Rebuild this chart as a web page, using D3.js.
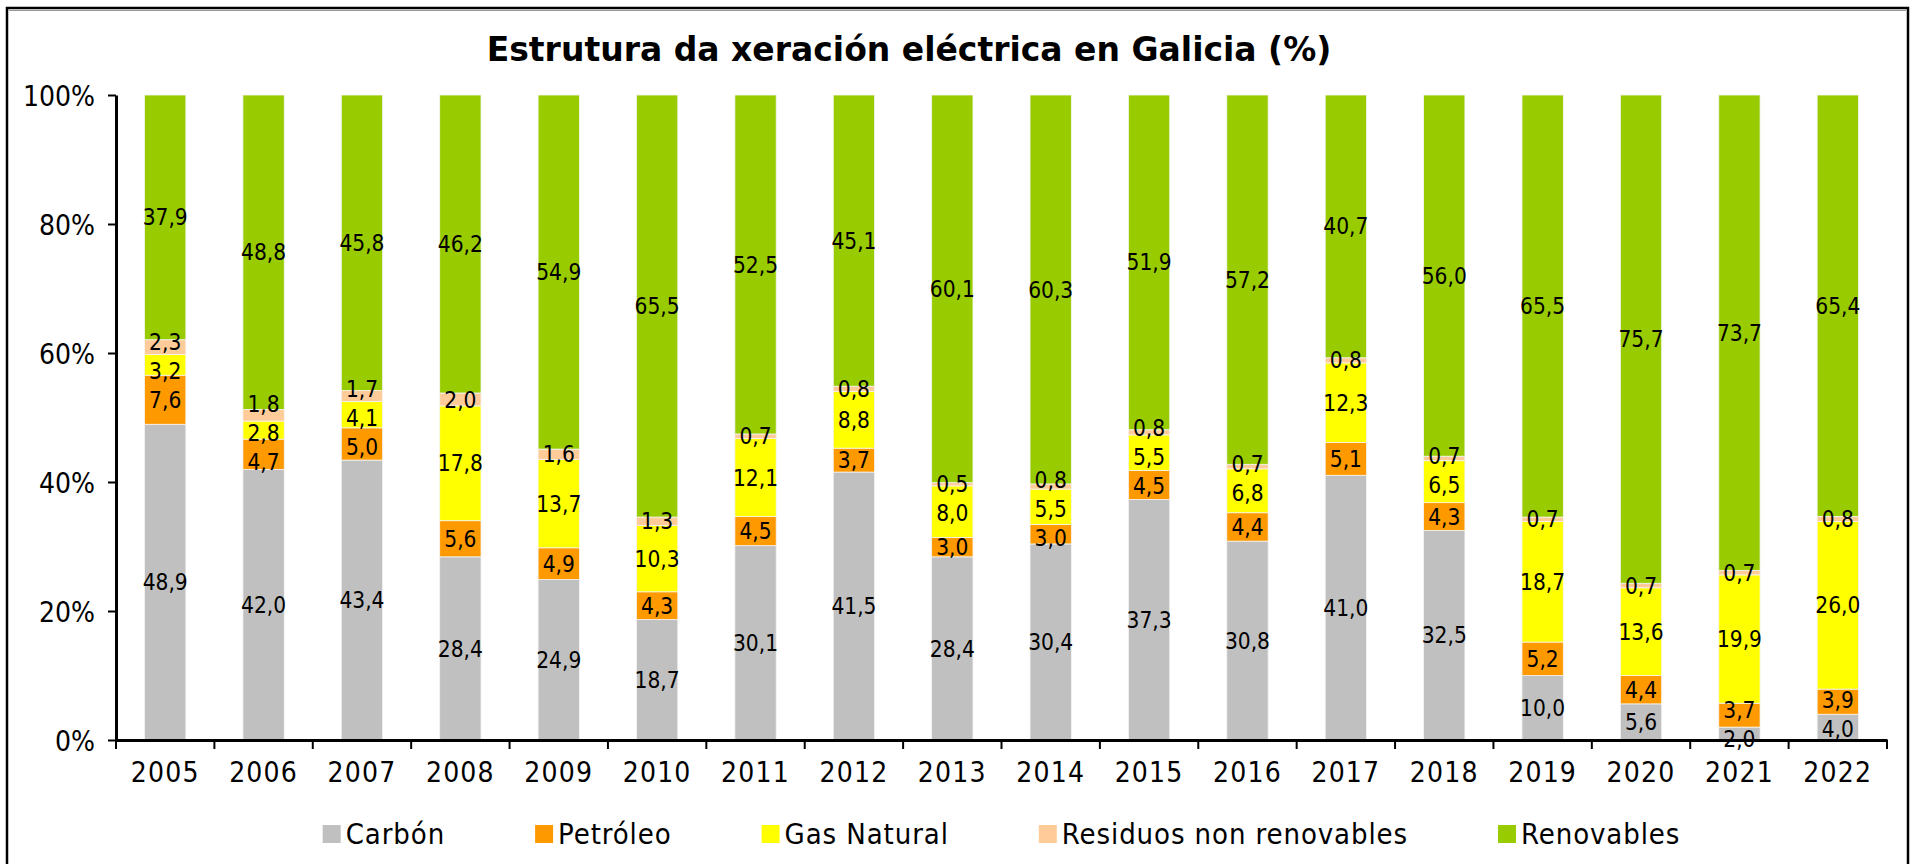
<!DOCTYPE html>
<html>
<head>
<meta charset="utf-8">
<script src="https://cdn.jsdelivr.net/npm/d3@7"></script>
<style>
  body { margin: 0; background: #fff; }
  text { font-family: "DejaVu Sans Condensed", "DejaVu Sans", sans-serif; font-stretch: condensed; }
</style>
</head>
<body>
<script>
const svgWidth = 1910
const svgHeight = 864

const margin = { top: 95, right: 23, bottom: 124, left: 116 }
const chartWidth = svgWidth - margin.left - margin.right
const chartHeight = svgHeight - margin.top - margin.bottom

// data (% of generation)
const years = ["2005","2006","2007","2008","2009","2010","2011","2012","2013","2014","2015","2016","2017","2018","2019","2020","2021","2022"]
const carbon = [48.9, 42.0, 43.4, 28.4, 24.9, 18.7, 30.1, 41.5, 28.4, 30.4, 37.3, 30.8, 41.0, 32.5, 10.0, 5.6, 2.0, 4.0]
const petroleo = [7.6, 4.7, 5.0, 5.6, 4.9, 4.3, 4.5, 3.7, 3.0, 3.0, 4.5, 4.4, 5.1, 4.3, 5.2, 4.4, 3.7, 3.9]
const gasNatural = [3.2, 2.8, 4.1, 17.8, 13.7, 10.3, 12.1, 8.8, 8.0, 5.5, 5.5, 6.8, 12.3, 6.5, 18.7, 13.6, 19.9, 26.0]
const residuos = [2.3, 1.8, 1.7, 2.0, 1.6, 1.3, 0.7, 0.8, 0.5, 0.8, 0.8, 0.7, 0.8, 0.7, 0.7, 0.7, 0.7, 0.8]
const renovables = [37.9, 48.8, 45.8, 46.2, 54.9, 65.5, 52.5, 45.1, 60.1, 60.3, 51.9, 57.2, 40.7, 56.0, 65.5, 75.7, 73.7, 65.4]
const seriesNames = ["Carbón", "Petróleo", "Gas Natural", "Residuos non renovables", "Renovables"]
const colors = ["#C0C0C0", "#FF9900", "#FFFF00", "#FFCC99", "#99CC00"]
const yTicks = [0, 0.2, 0.4, 0.6, 0.8, 1]

const seriesValues = [carbon, petroleo, gasNatural, residuos, renovables]
const rows = years.map((y, i) => {
  const row = { year: y }
  seriesNames.forEach((s, j) => { row[s] = seriesValues[j][i] })
  return row
})

const svg = d3.select("body").append("svg")
  .attr("width", svgWidth)
  .attr("height", svgHeight)

// frame
svg.append("rect")
  .attr("x", 7).attr("y", 8)
  .attr("width", 1901).attr("height", 900)
  .attr("fill", "none").attr("stroke", "#000").attr("stroke-width", 2.5)
svg.append("line")
  .attr("x1", 9).attr("x2", 1906).attr("y1", 10.5).attr("y2", 10.5)
  .attr("stroke", "#999").attr("stroke-width", 1)

svg.append("text")
  .attr("x", 909).attr("y", 61)
  .attr("text-anchor", "middle")
  .attr("font-size", 33).attr("font-weight", "bold")
  .style("font-family", "'DejaVu Sans', sans-serif")
  .style("font-stretch", "normal")
  .text("Estrutura da xeración eléctrica en Galicia (%)")

const chartG = svg.append("g")
  .attr("transform", `translate(${margin.left}, ${margin.top})`)

const x = d3.scaleBand()
  .domain(years)
  .range([0, chartWidth])
  .paddingInner(0.58)
  .paddingOuter(0.29)

const y = d3.scaleLinear()
  .domain([0, 1])
  .range([chartHeight, 0])

const color = d3.scaleOrdinal().domain(seriesNames).range(colors)

const stacked = d3.stack()
  .keys(seriesNames)
  .offset(d3.stackOffsetExpand)(rows)

const layers = chartG.selectAll("g.layer")
  .data(stacked)
  .enter()
  .append("g")
  .attr("class", "layer")
  .attr("fill", d => color(d.key))

layers.selectAll("rect")
  .data(d => d)
  .enter()
  .append("rect")
  .attr("x", d => x(d.data.year))
  .attr("width", x.bandwidth())
  .attr("y", d => y(d[1]))
  .attr("height", d => y(d[0]) - y(d[1]))
  .attr("stroke", "#f4f4f4")
  .attr("stroke-width", 0.8)

// axes
const yAxis = d3.axisLeft(y)
  .tickValues(yTicks)
  .tickFormat(d3.format(".0%"))
  .tickSize(8)
  .tickSizeOuter(0)
const xAxis = d3.axisBottom(x)
  .tickSize(0)
  .tickSizeOuter(0)

const yG = chartG.append("g").call(yAxis)
yG.select(".domain").attr("stroke-width", 3)
yG.selectAll(".tick line").attr("stroke-width", 2)
yG.selectAll("text").attr("font-size", 28).attr("x", -21).attr("dy", "0.36em")
  .attr("font-family", null)

const xG = chartG.append("g")
  .attr("transform", `translate(0, ${chartHeight})`)
  .call(xAxis)
xG.select(".domain").attr("stroke-width", 3)
xG.selectAll("text").attr("font-size", 28).attr("letter-spacing", 1.2)
  .attr("y", 22).attr("dy", "0.71em")
  .attr("font-family", null)

// tick marks between categories
const step = x.step()
xG.selectAll("line.sep")
  .data(d3.range(years.length + 1))
  .enter()
  .append("line")
  .attr("class", "sep")
  .attr("x1", i => i * step)
  .attr("x2", i => i * step)
  .attr("y1", 0)
  .attr("y2", 9)
  .attr("stroke", "#000")
  .attr("stroke-width", 2)

// data labels, spread apart where segments are thin
const fmt = v => d3.format(".1f")(v).replace(".", ",")
const minGap = 29
const labels = []
years.forEach((yr, i) => {
  const items = stacked.map((layer, j) => {
    const d = layer[i]
    return { year: yr, value: seriesValues[j][i], pos: (y(d[0]) + y(d[1])) / 2 }
  })
  for (let iter = 0; iter < 60; iter++) {
    items.sort((a, b) => a.pos - b.pos)
    for (let k = 0; k < items.length - 1; k++) {
      const gap = items[k + 1].pos - items[k].pos
      if (gap < minGap) {
        const shift = (minGap - gap) / 2
        items[k].pos -= shift
        items[k + 1].pos += shift
      }
    }
  }
  items.forEach(it => labels.push(it))
})

chartG.selectAll("text.lbl")
  .data(labels)
  .enter()
  .append("text")
  .attr("class", "lbl")
  .attr("x", d => x(d.year) + x.bandwidth() / 2)
  .attr("y", d => d.pos)
  .attr("dy", "0.36em")
  .attr("text-anchor", "middle")
  .attr("font-size", 22.5)
  .text(d => fmt(d.value))

// legend
const legendG = svg.append("g")
  .attr("transform", `translate(0, 834)`)
const items = legendG.selectAll("g")
  .data(seriesNames)
  .enter()
  .append("g")
items.append("rect")
  .attr("width", 18).attr("height", 18)
  .attr("y", -9)
  .attr("fill", d => color(d))
items.append("text")
  .attr("x", 23)
  .attr("dy", "0.36em")
  .attr("font-size", 29)
  .attr("letter-spacing", 0.9)
  .text(d => d)

const widths = []
items.each(function () { widths.push(this.getBBox().width) })
const itemGap = 90
const total = d3.sum(widths) + itemGap * (widths.length - 1)
let cursor = (margin.left + margin.left + chartWidth) / 2 - total / 2
items.attr("transform", (d, i) => {
  const t = `translate(${cursor}, 0)`
  cursor += widths[i] + itemGap
  return t
})
</script>
</body>
</html>
